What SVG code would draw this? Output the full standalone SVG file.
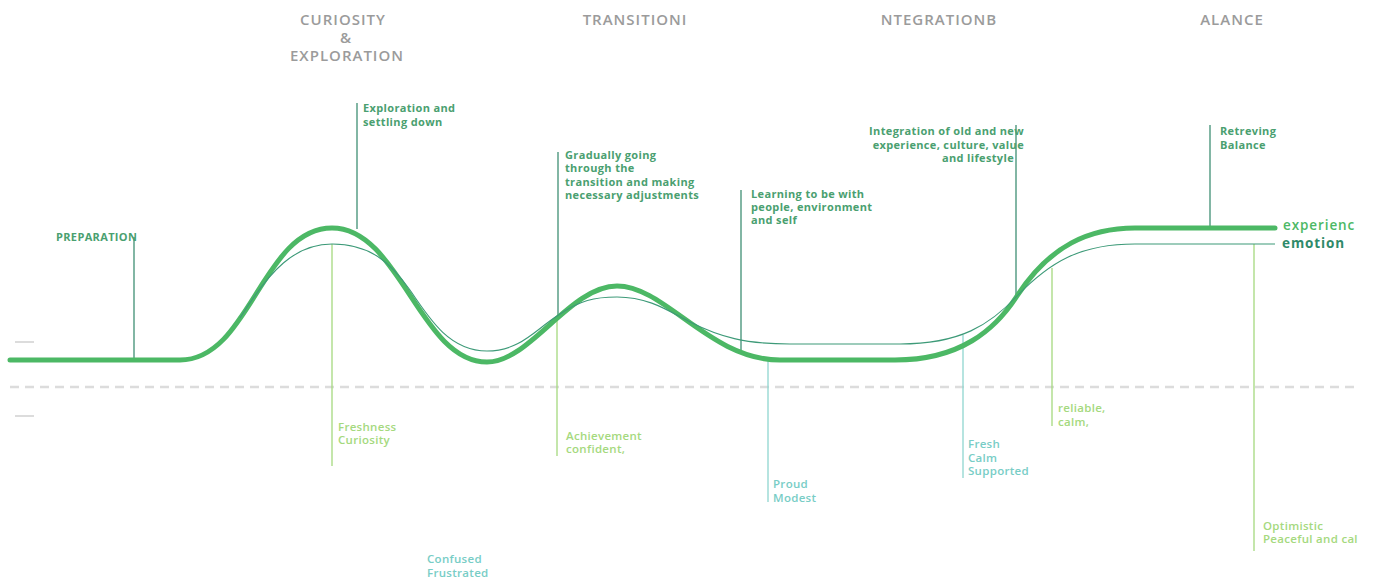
<svg xmlns="http://www.w3.org/2000/svg" width="1373" height="578" viewBox="0 0 1373 578">
<style>
.hd{font-family:"Open Sans",sans-serif;font-size:15px;fill:#9b9b9b;font-weight:600;letter-spacing:1px}
.gt{font-family:"Open Sans",sans-serif;font-size:11px;fill:#4aa070;font-weight:700;letter-spacing:0.35px}
.lg{font-family:"Open Sans",sans-serif;font-size:11.5px;fill:#a5d97e;font-weight:600;letter-spacing:0.3px}
.tl{font-family:"Open Sans",sans-serif;font-size:11.5px;fill:#78cdc6;font-weight:600;letter-spacing:0.3px}
.vd{stroke:#3f8f74;stroke-width:1.3}
.vl{stroke:#a5d97e;stroke-width:1.3}
.vt{stroke:#8fd6d0;stroke-width:1.3}
</style>
<rect width="1373" height="578" fill="#fff"/>
<g id="axes">
<line x1="10" y1="387" x2="1358" y2="387" stroke="#dcdcdc" stroke-width="2.5" stroke-dasharray="9,6"/>
<line x1="15" y1="342" x2="34" y2="342" stroke="#dcdcdc" stroke-width="2"/>
<line x1="15" y1="416" x2="34" y2="416" stroke="#dcdcdc" stroke-width="2"/>
</g>
<g id="headers">
<text class="hd" x="343" y="25" text-anchor="middle">CURIOSITY</text>
<text class="hd" x="346" y="43" text-anchor="middle">&amp;</text>
<text class="hd" x="347" y="61" text-anchor="middle">EXPLORATION</text>
<text class="hd" x="635" y="25" text-anchor="middle">TRANSITIONI</text>
<text class="hd" x="939" y="25" text-anchor="middle">NTEGRATIONB</text>
<text class="hd" x="1232" y="25" text-anchor="middle">ALANCE</text>
</g>
<g id="connectors">
<line class="vd" x1="134" y1="237" x2="134" y2="360"/>
<line class="vd" x1="357" y1="103" x2="357" y2="229"/>
<line class="vd" x1="558" y1="152" x2="558" y2="316"/>
<line class="vd" x1="741" y1="190" x2="741" y2="351"/>
<line class="vd" x1="1016" y1="125" x2="1016" y2="296"/>
<line class="vd" x1="1210" y1="125" x2="1210" y2="228"/>
<line class="vl" x1="332" y1="244" x2="332" y2="466"/>
<line class="vl" x1="557" y1="316" x2="557" y2="456"/>
<line class="vl" x1="1052" y1="268" x2="1052" y2="426"/>
<line class="vl" x1="1254" y1="244" x2="1254" y2="551"/>
<line class="vt" x1="768" y1="360" x2="768" y2="502"/>
<line class="vt" x1="963" y1="335" x2="963" y2="478"/>
</g>
<g id="experience-curve">
<path d="M10,360 H180 C250,360 262,228 332,228 C400,228 420,362 487,362 C530,362 570,286 617,286 C665,286 710,360 780,360 H895 C960,360 995,330 1017,296 C1050,245 1090,228 1135,228 H1275" fill="none" stroke="#4cb865" stroke-width="5" stroke-linecap="round"/>
<text x="1283" y="229.5" font-family="'Open Sans',sans-serif" font-size="13.5px" font-weight="600" letter-spacing="0.9px" fill="#4cb865">experienc</text>
</g>
<g id="emotion-curve">
<path d="M240,318 C270,270 295,244 332,244 C370,244 390,262 410,290 C430,320 450,351 487,351 C520,351 535,330 557,316 C580,300 595,297 617,297 C650,297 670,312 690,322 C720,337 745,344 790,344 L900,344 C960,344 990,325 1017,296 C1050,262 1080,244 1135,244 L1275,244" fill="none" stroke="#3d9a78" stroke-width="1.1"/>
<text x="1282" y="247.5" font-family="'Open Sans',sans-serif" font-size="13.5px" font-weight="700" letter-spacing="0.9px" fill="#2f8a6a">emotion</text>
</g>
<g id="preparation"><text class="gt" x="56" y="241">PREPARATION</text></g>
<g id="exploration"><text class="gt" x="363" y="112">Exploration and</text><text class="gt" x="363" y="126">settling down</text></g>
<g id="gradually"><text class="gt" x="565" y="159">Gradually going</text><text class="gt" x="565" y="172">through the</text><text class="gt" x="565" y="186">transition and making</text><text class="gt" x="565" y="199">necessary adjustments</text></g>
<g id="learning"><text class="gt" x="751" y="198">Learning to be with</text><text class="gt" x="751" y="211">people, environment</text><text class="gt" x="751" y="224">and self</text></g>
<g id="integration"><text class="gt" x="1024" y="135" text-anchor="end">Integration of old and new</text><text class="gt" x="1024" y="149" text-anchor="end">experience, culture, value</text><text class="gt" x="1014" y="162" text-anchor="end">and lifestyle</text></g>
<g id="retreving"><text class="gt" x="1220" y="135">Retreving</text><text class="gt" x="1220" y="149">Balance</text></g>
<g id="freshness"><text class="lg" x="338" y="431">Freshness</text><text class="lg" x="338" y="444">Curiosity</text></g>
<g id="achievement"><text class="lg" x="566" y="440">Achievement</text><text class="lg" x="566" y="453">confident,</text></g>
<g id="confused"><text class="tl" x="427" y="563">Confused</text><text class="tl" x="427" y="577">Frustrated</text></g>
<g id="proud"><text class="tl" x="773" y="488">Proud</text><text class="tl" x="773" y="502">Modest</text></g>
<g id="fresh"><text class="tl" x="968" y="448">Fresh</text><text class="tl" x="968" y="462">Calm</text><text class="tl" x="968" y="475">Supported</text></g>
<g id="reliable"><text class="lg" x="1058" y="412">reliable,</text><text class="lg" x="1058" y="426">calm,</text></g>
<g id="optimistic"><text class="lg" x="1263" y="530">Optimistic</text><text class="lg" x="1263" y="543">Peaceful and cal</text></g>
</svg>
